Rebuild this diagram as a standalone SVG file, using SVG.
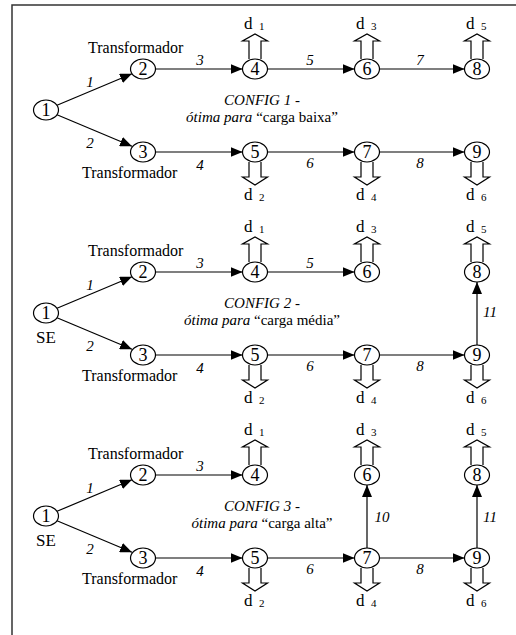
<svg xmlns="http://www.w3.org/2000/svg" xmlns:xlink="http://www.w3.org/1999/xlink" width="516" height="635" viewBox="0 0 516 635">
<style>
text{font-family:"Liberation Serif","Times New Roman",serif;fill:#000}
.nd{fill:#fff;stroke:#000;stroke-width:1.2}
.num{font-size:18px;text-anchor:middle}
.d{font-size:17px}
.sub{font-size:11px}
.lbl{font-size:15px;font-style:italic;text-anchor:middle}
.tr{font-size:16px}
.cf{font-size:15px;font-style:italic;text-anchor:middle}
.op{font-size:15px;text-anchor:middle}
.se{font-size:17px;text-anchor:middle}
.e{stroke:#000;stroke-width:1.2;fill:none;marker-end:url(#ah)}
.dm{fill:#fff;stroke:#000;stroke-width:1.2}
</style>
<defs>
<marker id="ah" markerUnits="userSpaceOnUse" markerWidth="12" markerHeight="10" refX="12" refY="5" orient="auto"><path d="M0,0 L12,5 L0,10 z" fill="#000"/></marker>
<path id="up" class="dm" d="M-6,-10 V-28 H-12.5 L0,-35 L12.5,-28 H6 V-10"/>
<path id="dn" class="dm" d="M-6,10 V25 H-12.5 L0,33 L12.5,25 H6 V10"/>
</defs>
<path d="M12,635 V5 H516" fill="none" stroke="#333" stroke-width="1.5"/>

<!-- CONFIG 1 -->
<g id="config1">
<g id="c1-connectors">
<line class="e" x1="57" y1="105.3" x2="132" y2="73.7"/>
<line class="e" x1="57" y1="114.7" x2="132" y2="146.3"/>
<line class="e" x1="155.5" y1="69" x2="242.5" y2="69"/>
<line class="e" x1="155.5" y1="152" x2="242.5" y2="152"/>
<line class="e" x1="267.5" y1="69" x2="354.5" y2="69"/>
<line class="e" x1="267.5" y1="152" x2="354.5" y2="152"/>
<line class="e" x1="379.5" y1="69" x2="464.5" y2="69"/>
<line class="e" x1="379.5" y1="152" x2="464.5" y2="152"/>
<text class="lbl" x="90" y="87">1</text>
<text class="lbl" x="90" y="148">2</text>
<text class="lbl" x="200" y="65">3</text>
<text class="lbl" x="200" y="170">4</text>
<text class="lbl" x="310" y="65">5</text>
<text class="lbl" x="310" y="168">6</text>
<text class="lbl" x="420" y="65">7</text>
<text class="lbl" x="420" y="168">8</text>
</g>
<g id="c1-n1"><ellipse class="nd" cx="46" cy="110" rx="12.5" ry="10"/><text class="num" x="46" y="116">1</text></g>
<g id="c1-n2"><ellipse class="nd" cx="143" cy="69" rx="12.5" ry="10"/><text class="num" x="143" y="75">2</text></g>
<g id="c1-n3"><ellipse class="nd" cx="143" cy="152" rx="12.5" ry="10"/><text class="num" x="143" y="158">3</text></g>
<g id="c1-n4"><use href="#up" x="255" y="69"/><ellipse class="nd" cx="255" cy="69" rx="12.5" ry="10"/><text class="num" x="255" y="75">4</text><text class="d" x="244" y="29">d</text><text class="sub" x="259" y="30">1</text></g>
<g id="c1-n5"><use href="#dn" x="255" y="152"/><ellipse class="nd" cx="255" cy="152" rx="12.5" ry="10"/><text class="num" x="255" y="158">5</text><text class="d" x="244" y="200">d</text><text class="sub" x="259" y="201">2</text></g>
<g id="c1-n6"><use href="#up" x="367" y="69"/><ellipse class="nd" cx="367" cy="69" rx="12.5" ry="10"/><text class="num" x="367" y="75">6</text><text class="d" x="356" y="29">d</text><text class="sub" x="371" y="30">3</text></g>
<g id="c1-n7"><use href="#dn" x="367" y="152"/><ellipse class="nd" cx="367" cy="152" rx="12.5" ry="10"/><text class="num" x="367" y="158">7</text><text class="d" x="356" y="200">d</text><text class="sub" x="371" y="201">4</text></g>
<g id="c1-n8"><use href="#up" x="477" y="69"/><ellipse class="nd" cx="477" cy="69" rx="12.5" ry="10"/><text class="num" x="477" y="75">8</text><text class="d" x="466" y="29">d</text><text class="sub" x="481" y="30">5</text></g>
<g id="c1-n9"><use href="#dn" x="477" y="152"/><ellipse class="nd" cx="477" cy="152" rx="12.5" ry="10"/><text class="num" x="477" y="158">9</text><text class="d" x="466" y="200">d</text><text class="sub" x="481" y="201">6</text></g>
<text class="tr" x="88" y="53">Transformador</text>
<text class="tr" x="82" y="178">Transformador</text>
<text class="cf" x="262" y="105">CONFIG 1 -</text>
<text class="op" x="262" y="122"><tspan font-style="italic">ótima para </tspan>“carga baixa”</text>
</g>

<!-- CONFIG 2 -->
<g id="config2" transform="translate(0,203)">
<g id="c2-connectors">
<line class="e" x1="57" y1="105.3" x2="132" y2="73.7"/>
<line class="e" x1="57" y1="114.7" x2="132" y2="146.3"/>
<line class="e" x1="155.5" y1="69" x2="242.5" y2="69"/>
<line class="e" x1="155.5" y1="152" x2="242.5" y2="152"/>
<line class="e" x1="267.5" y1="69" x2="354.5" y2="69"/>
<line class="e" x1="267.5" y1="152" x2="354.5" y2="152"/>
<line class="e" x1="379.5" y1="152" x2="464.5" y2="152"/>
<line class="e" x1="477" y1="142" x2="477" y2="79"/>
<text class="lbl" x="90" y="87">1</text>
<text class="lbl" x="90" y="148">2</text>
<text class="lbl" x="200" y="65">3</text>
<text class="lbl" x="200" y="170">4</text>
<text class="lbl" x="310" y="65">5</text>
<text class="lbl" x="310" y="168">6</text>
<text class="lbl" x="420" y="168">8</text>
<text class="lbl" x="490" y="114">11</text>
</g>
<g id="c2-n1"><ellipse class="nd" cx="46" cy="110" rx="12.5" ry="10"/><text class="num" x="46" y="116">1</text><text class="se" x="46" y="140">SE</text></g>
<g id="c2-n2"><ellipse class="nd" cx="143" cy="69" rx="12.5" ry="10"/><text class="num" x="143" y="75">2</text></g>
<g id="c2-n3"><ellipse class="nd" cx="143" cy="152" rx="12.5" ry="10"/><text class="num" x="143" y="158">3</text></g>
<g id="c2-n4"><use href="#up" x="255" y="69"/><ellipse class="nd" cx="255" cy="69" rx="12.5" ry="10"/><text class="num" x="255" y="75">4</text><text class="d" x="244" y="29">d</text><text class="sub" x="259" y="30">1</text></g>
<g id="c2-n5"><use href="#dn" x="255" y="152"/><ellipse class="nd" cx="255" cy="152" rx="12.5" ry="10"/><text class="num" x="255" y="158">5</text><text class="d" x="244" y="200">d</text><text class="sub" x="259" y="201">2</text></g>
<g id="c2-n6"><use href="#up" x="367" y="69"/><ellipse class="nd" cx="367" cy="69" rx="12.5" ry="10"/><text class="num" x="367" y="75">6</text><text class="d" x="356" y="29">d</text><text class="sub" x="371" y="30">3</text></g>
<g id="c2-n7"><use href="#dn" x="367" y="152"/><ellipse class="nd" cx="367" cy="152" rx="12.5" ry="10"/><text class="num" x="367" y="158">7</text><text class="d" x="356" y="200">d</text><text class="sub" x="371" y="201">4</text></g>
<g id="c2-n8"><use href="#up" x="477" y="69"/><ellipse class="nd" cx="477" cy="69" rx="12.5" ry="10"/><text class="num" x="477" y="75">8</text><text class="d" x="466" y="29">d</text><text class="sub" x="481" y="30">5</text></g>
<g id="c2-n9"><use href="#dn" x="477" y="152"/><ellipse class="nd" cx="477" cy="152" rx="12.5" ry="10"/><text class="num" x="477" y="158">9</text><text class="d" x="466" y="200">d</text><text class="sub" x="481" y="201">6</text></g>
<text class="tr" x="88" y="53">Transformador</text>
<text class="tr" x="82" y="178">Transformador</text>
<text class="cf" x="262" y="105">CONFIG 2 -</text>
<text class="op" x="262" y="122"><tspan font-style="italic">ótima para </tspan>“carga média”</text>
</g>

<!-- CONFIG 3 -->
<g id="config3" transform="translate(0,406)">
<g id="c3-connectors">
<line class="e" x1="57" y1="105.3" x2="132" y2="73.7"/>
<line class="e" x1="57" y1="114.7" x2="132" y2="146.3"/>
<line class="e" x1="155.5" y1="69" x2="242.5" y2="69"/>
<line class="e" x1="155.5" y1="152" x2="242.5" y2="152"/>
<line class="e" x1="267.5" y1="152" x2="354.5" y2="152"/>
<line class="e" x1="379.5" y1="152" x2="464.5" y2="152"/>
<line class="e" x1="367" y1="142" x2="367" y2="79"/>
<line class="e" x1="477" y1="142" x2="477" y2="79"/>
<text class="lbl" x="90" y="87">1</text>
<text class="lbl" x="90" y="148">2</text>
<text class="lbl" x="200" y="65">3</text>
<text class="lbl" x="200" y="170">4</text>
<text class="lbl" x="310" y="168">6</text>
<text class="lbl" x="420" y="168">8</text>
<text class="lbl" x="382" y="116">10</text>
<text class="lbl" x="490" y="116">11</text>
</g>
<g id="c3-n1"><ellipse class="nd" cx="46" cy="110" rx="12.5" ry="10"/><text class="num" x="46" y="116">1</text><text class="se" x="46" y="140">SE</text></g>
<g id="c3-n2"><ellipse class="nd" cx="143" cy="69" rx="12.5" ry="10"/><text class="num" x="143" y="75">2</text></g>
<g id="c3-n3"><ellipse class="nd" cx="143" cy="152" rx="12.5" ry="10"/><text class="num" x="143" y="158">3</text></g>
<g id="c3-n4"><use href="#up" x="255" y="69"/><ellipse class="nd" cx="255" cy="69" rx="12.5" ry="10"/><text class="num" x="255" y="75">4</text><text class="d" x="244" y="29">d</text><text class="sub" x="259" y="30">1</text></g>
<g id="c3-n5"><use href="#dn" x="255" y="152"/><ellipse class="nd" cx="255" cy="152" rx="12.5" ry="10"/><text class="num" x="255" y="158">5</text><text class="d" x="244" y="200">d</text><text class="sub" x="259" y="201">2</text></g>
<g id="c3-n6"><use href="#up" x="367" y="69"/><ellipse class="nd" cx="367" cy="69" rx="12.5" ry="10"/><text class="num" x="367" y="75">6</text><text class="d" x="356" y="29">d</text><text class="sub" x="371" y="30">3</text></g>
<g id="c3-n7"><use href="#dn" x="367" y="152"/><ellipse class="nd" cx="367" cy="152" rx="12.5" ry="10"/><text class="num" x="367" y="158">7</text><text class="d" x="356" y="200">d</text><text class="sub" x="371" y="201">4</text></g>
<g id="c3-n8"><use href="#up" x="477" y="69"/><ellipse class="nd" cx="477" cy="69" rx="12.5" ry="10"/><text class="num" x="477" y="75">8</text><text class="d" x="466" y="29">d</text><text class="sub" x="481" y="30">5</text></g>
<g id="c3-n9"><use href="#dn" x="477" y="152"/><ellipse class="nd" cx="477" cy="152" rx="12.5" ry="10"/><text class="num" x="477" y="158">9</text><text class="d" x="466" y="200">d</text><text class="sub" x="481" y="201">6</text></g>
<text class="tr" x="88" y="53">Transformador</text>
<text class="tr" x="82" y="178">Transformador</text>
<text class="cf" x="262" y="105">CONFIG 3 -</text>
<text class="op" x="262" y="122"><tspan font-style="italic">ótima para </tspan>“carga alta”</text>
</g>
</svg>
